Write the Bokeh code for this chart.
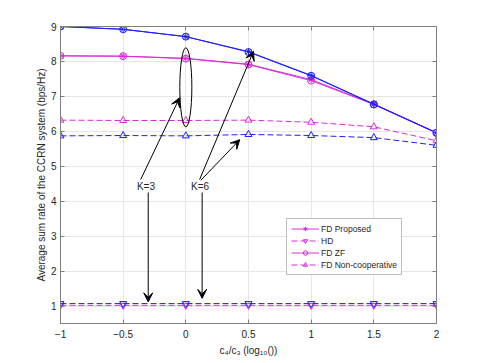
from bokeh.plotting import figure
from bokeh.models import (Range1d, LinearAxis, FixedTicker, Arrow, VeeHead,
                          Legend, LegendItem)
from bokeh.core.properties import value
from bokeh.embed import file_html
from bokeh.resources import INLINE

# ---- data ----
x = [-1, -0.5, 0, 0.5, 1, 1.5, 2]
prop_k3 = [8.16, 8.15, 8.09, 7.92, 7.48, 6.78, 5.96]
zf_k3 = [8.16, 8.15, 8.08, 7.91, 7.45, 6.77, 5.95]
prop_k6 = [9.00, 8.92, 8.71, 8.28, 7.60, 6.78, 5.96]
zf_k6 = [9.00, 8.92, 8.71, 8.27, 7.59, 6.77, 5.96]
hd_k3 = [1.02, 1.02, 1.02, 1.02, 1.02, 1.02, 1.02]
hd_k6 = [1.07, 1.07, 1.07, 1.07, 1.07, 1.07, 1.07]
nc_k3 = [6.32, 6.31, 6.31, 6.32, 6.26, 6.13, 5.73]
nc_k6 = [5.87, 5.88, 5.87, 5.91, 5.88, 5.82, 5.60]

x_ticks = [-1, -0.5, 0, 0.5, 1, 1.5, 2]
y_ticks = [1, 2, 3, 4, 5, 6, 7, 8, 9]

# annotations
k_labels = ["K=3", "K=6"]
k_label_x = [-0.318, 0.114]
k_label_y = [4.42, 4.42]
arrow_x0 = [-0.30, -0.36, 0.13, 0.11, 0.12]
arrow_y0 = [4.25, 4.62, 4.25, 4.62, 4.60]
arrow_x1 = [-0.30, -0.05, 0.13, 0.54, 0.43]
arrow_y1 = [1.12, 6.96, 1.22, 8.29, 5.76]
ellipse_x = 0.0
ellipse_y = 7.26
ellipse_w = 0.096
ellipse_h = 2.26

BLUE = "#1f1fff"
MAG = "#d62fd6"
FONT = "Liberation Sans"

p = figure(output_backend="svg", toolbar_location=None,
           x_range=Range1d(-1, 2), y_range=Range1d(0.5, 9),
           min_border_left=60, min_border_right=30, min_border_top=26,
           min_border_bottom=30, frame_width=376, frame_height=297)
p.background_fill_color = "white"
p.border_fill_color = "white"
p.outline_line_color = "#7f7f7f"

for ax in [p.xaxis[0], p.yaxis[0]]:
    ax.major_tick_in = 4
    ax.major_tick_out = 0
    ax.minor_tick_in = 0
    ax.minor_tick_out = 0
    ax.axis_line_color = "#7f7f7f"
    ax.major_tick_line_color = "#7f7f7f"
    ax.major_label_text_font = FONT
    ax.major_label_text_font_size = "10px"
    ax.major_label_text_color = "#262626"
    ax.axis_label_text_font = FONT
    ax.axis_label_text_font_size = "10px"
    ax.axis_label_text_font_style = "normal"
    ax.axis_label_text_color = "#262626"

p.xaxis[0].ticker = FixedTicker(ticks=x_ticks)
p.yaxis[0].ticker = FixedTicker(ticks=y_ticks)
p.xaxis[0].axis_label = "c₄/c₃ (log₁₀())"
p.yaxis[0].axis_label = "Average sum rate of the CCRN system (bps/Hz)"
p.xaxis[0].axis_label_standoff = 4
p.yaxis[0].axis_label_standoff = 1
p.xaxis[0].major_label_standoff = 6
p.yaxis[0].major_label_standoff = 4

for loc, tk in [("above", x_ticks), ("right", y_ticks)]:
    a = LinearAxis(ticker=FixedTicker(ticks=tk), major_label_text_font_size="0px",
                   major_tick_in=4, major_tick_out=0, minor_tick_in=0, minor_tick_out=0,
                   axis_line_color="#7f7f7f", major_tick_line_color="#7f7f7f")
    p.add_layout(a, loc)

p.grid.grid_line_color = "#e6e6e6"
p.xgrid.ticker = FixedTicker(ticks=x_ticks)
p.ygrid.ticker = FixedTicker(ticks=y_ticks)

lw = 1

# K=3 (magenta)
l1 = p.line(x, prop_k3, line_color=MAG, line_width=lw)
m1 = p.scatter(x, prop_k3, marker="asterisk", size=7, line_color=MAG, fill_color=None)
l2 = p.line(x, hd_k3, line_color=MAG, line_width=lw, line_dash="6 3")
m2 = p.scatter(x, hd_k3, marker="inverted_triangle", size=7, line_color=MAG, fill_color=None)
l3 = p.line(x, zf_k3, line_color=MAG, line_width=lw)
m3 = p.scatter(x, zf_k3, marker="circle", size=7, line_color=MAG, fill_color=None)
l4 = p.line(x, nc_k3, line_color=MAG, line_width=lw, line_dash="6 3")
m4 = p.scatter(x, nc_k3, marker="triangle", size=7, line_color=MAG, fill_color=None)

# K=6 (blue)
p.line(x, prop_k6, line_color=BLUE, line_width=lw)
p.scatter(x, prop_k6, marker="asterisk", size=7, line_color=BLUE, fill_color=None)
p.line(x, hd_k6, line_color=BLUE, line_width=lw, line_dash="6 3")
p.scatter(x, hd_k6, marker="inverted_triangle", size=7, line_color=BLUE, fill_color=None)
p.line(x, zf_k6, line_color=BLUE, line_width=lw)
p.scatter(x, zf_k6, marker="circle", size=7, line_color=BLUE, fill_color=None)
p.line(x, nc_k6, line_color=BLUE, line_width=lw, line_dash="6 3")
p.scatter(x, nc_k6, marker="triangle", size=7, line_color=BLUE, fill_color=None)

# annotations
p.ellipse(x=[ellipse_x], y=[ellipse_y], width=[ellipse_w], height=[ellipse_h],
          fill_color=None, line_color="black", line_width=1)
p.text(x=k_label_x, y=k_label_y, text=k_labels, text_font=value(FONT),
       text_font_size="10px", text_align="center", text_baseline="middle",
       text_color="#262626")
for xs, ys, xe, ye in zip(arrow_x0, arrow_y0, arrow_x1, arrow_y1):
    p.add_layout(Arrow(x_start=xs, y_start=ys, x_end=xe, y_end=ye,
                       line_color="black", line_width=1,
                       end=VeeHead(size=9, fill_color="black", line_color="black")))

legend = Legend(items=[
    LegendItem(label="FD Proposed", renderers=[l1, m1]),
    LegendItem(label="HD", renderers=[l2, m2]),
    LegendItem(label="FD ZF", renderers=[l3, m3]),
    LegendItem(label="FD Non-cooperative", renderers=[l4, m4]),
], location=(226, 48))
legend.label_text_font = FONT
legend.label_text_font_size = "8.5px"
legend.label_text_color = "#262626"
legend.label_height = 11
legend.glyph_height = 11
legend.glyph_width = 28
legend.spacing = 1
legend.padding = 4
legend.margin = 0
legend.label_standoff = 2
legend.border_line_color = "#7f7f7f"
legend.background_fill_alpha = 1
p.add_layout(legend)

open("out.html", "w").write(file_html(p, INLINE))
